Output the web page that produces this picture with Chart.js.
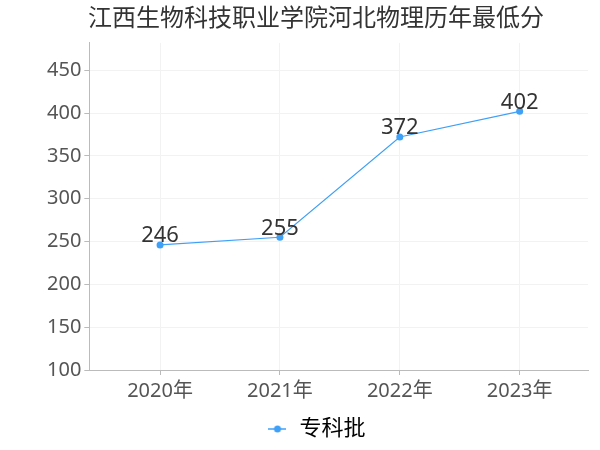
<!DOCTYPE html>
<html lang="zh">
<head>
  <meta charset="UTF-8" />
  <title>江西生物科技职业学院河北物理历年最低分</title>
  <script src="https://cdn.jsdelivr.net/npm/chart.js"></script>
  <style>
    body { margin: 0; background: #fff; }
    #wrap { width: 600px; height: 450px; }
  </style>
</head>
<body>
  <div id="wrap"><canvas id="c" width="600" height="450"></canvas></div>
  <script>
    const years = ['2020年', '2021年', '2022年', '2023年'];
    const scores = [246, 255, 372, 402];
    const yTicks = [100, 150, 200, 250, 300, 350, 400, 450];
    const seriesName = '专科批';

    const FONT = "'Noto Sans', 'Noto Sans CJK SC', sans-serif";
    const BLUE = '#3fa0f7';

    // little legend mark: line with a dot in the middle
    const mark = document.createElement('canvas');
    mark.width = 18; mark.height = 10;
    const m = mark.getContext('2d');
    m.strokeStyle = BLUE; m.lineWidth = 1.5;
    m.beginPath(); m.moveTo(0, 5); m.lineTo(18, 5); m.stroke();
    m.fillStyle = BLUE;
    m.beginPath(); m.arc(9, 5, 3.5, 0, Math.PI * 2); m.fill();

    const valueLabels = {
      id: 'valueLabels',
      afterDatasetsDraw(chart) {
        const ctx = chart.ctx;
        const meta = chart.getDatasetMeta(0);
        ctx.save();
        ctx.font = '22px ' + FONT;
        ctx.fillStyle = '#333';
        ctx.textAlign = 'center';
        ctx.textBaseline = 'bottom';
        meta.data.forEach((pt, i) => {
          ctx.fillText(String(scores[i]), pt.x, pt.y + 2);
        });
        ctx.restore();
      }
    };

    new Chart(document.getElementById('c').getContext('2d'), {
      type: 'line',
      data: {
        datasets: [{
          label: seriesName,
          data: scores.map((v, i) => ({ x: i, y: v })),
          borderColor: BLUE,
          backgroundColor: BLUE,
          borderWidth: 1.2,
          pointRadius: 3.5,
          pointHoverRadius: 3.5,
          pointBackgroundColor: BLUE,
          pointBorderWidth: 0,
          tension: 0
        }]
      },
      options: {
        responsive: false,
        animation: false,
        layout: { padding: { left: 44, right: 12, top: 0, bottom: 0 } },
        plugins: {
          title: {
            display: true,
            text: '江西生物科技职业学院河北物理历年最低分',
            color: '#333',
            font: { family: FONT, size: 24, weight: 'normal' },
            padding: { top: 5, bottom: 9 }
          },
          legend: {
            position: 'bottom',
            labels: {
              color: '#333',
              font: { family: FONT, size: 22 },
              usePointStyle: true,
              padding: 1,
              generateLabels(chart) {
                return [{ text: seriesName, pointStyle: mark, fillStyle: BLUE, strokeStyle: BLUE, lineWidth: 0, datasetIndex: 0 }];
              }
            }
          },
          tooltip: { enabled: false }
        },
        scales: {
          x: {
            type: 'linear',
            min: -0.59,
            max: 3.57,
            afterBuildTicks(axis) { axis.ticks = years.map((_, i) => ({ value: i })); },
            afterFit(axis) { axis.height += 10; },
            ticks: {
              color: '#555',
              font: { family: FONT, size: 20 },
              padding: 4,
              callback: (v) => years[v]
            },
            grid: { color: '#f2f2f2', tickColor: '#bbb', tickLength: 5 },
            border: { color: '#bbb' }
          },
          y: {
            type: 'linear',
            min: 100,
            max: 482,
            afterBuildTicks(axis) { axis.ticks = yTicks.map(v => ({ value: v })); },
            ticks: {
              color: '#555',
              font: { family: FONT, size: 20 },
              padding: 3
            },
            grid: { color: '#f2f2f2', tickColor: '#bbb', tickLength: 5 },
            border: { color: '#bbb' }
          }
        }
      },
      plugins: [valueLabels]
    });
  </script>
</body>
</html>
